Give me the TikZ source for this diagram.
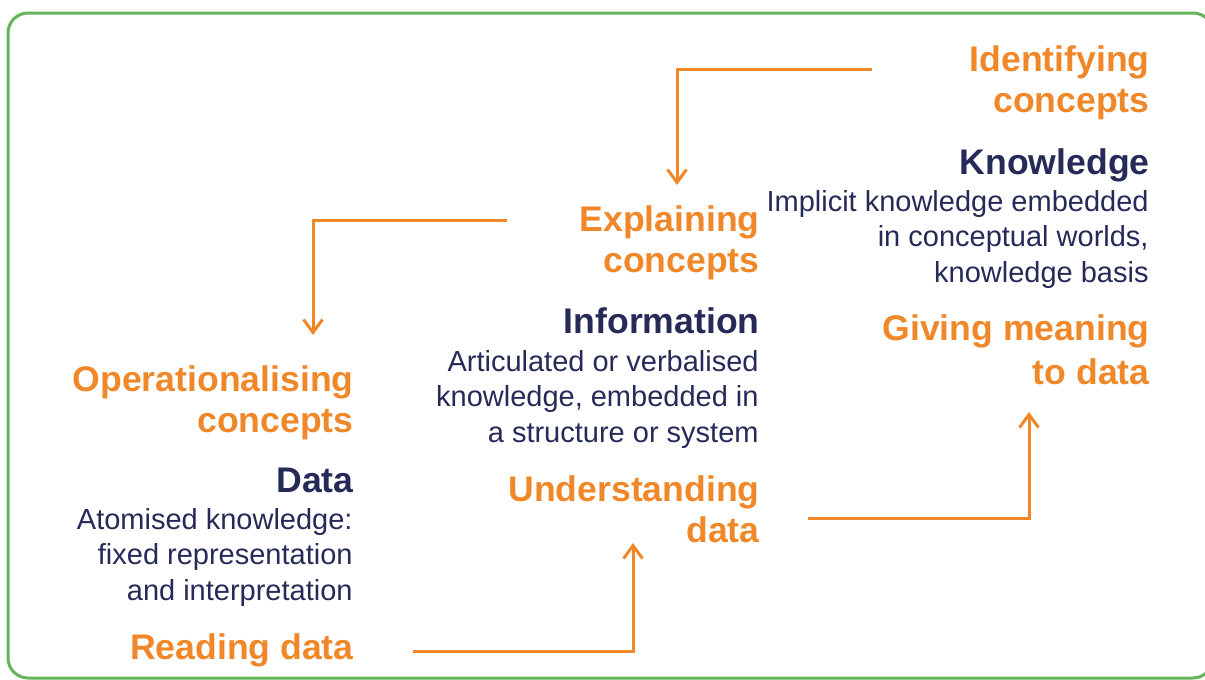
\documentclass[tikz,border=0pt]{standalone}
\usepackage{fontspec}
\setmainfont{Liberation Sans}
\usepackage{tikz}
\usetikzlibrary{arrows.meta}
\usetikzlibrary{positioning}
\definecolor{stageorange}{RGB}{240,136,42}
\definecolor{levelnavy}{RGB}{38,42,88}
\definecolor{framegreen}{RGB}{102,180,90}
\tikzset{stage/.style = {anchor=base east, inner sep=0, align=right, text=stageorange, font=\bfseries\fontsize{17.8}{20.5}\selectfont}}
\tikzset{level/.style = {anchor=base east, inner sep=0, align=right, text=levelnavy, font=\bfseries\fontsize{17.8}{20.5}\selectfont}}
\tikzset{desc/.style = {anchor=base east, inner sep=0, align=right, text=levelnavy, font=\fontsize{14.5}{17.75}\selectfont}}
\tikzset{flow/.style = {draw=stageorange, line width=1.5pt, -{Straight Barb[length=6.5pt,width=9.5pt]}}}

\begin{document}
\begin{tikzpicture}[x=0.5pt,y=-0.5pt]
        \useasboundingbox (0,0) rectangle (1205,680);
        \draw [framegreen,line width=1.5pt,rounded corners=10pt] (8,13) rectangle (1213,678);
        % knowledge column (nodes sit on the baseline of their last line)
        \node[stage] (identify) at (1150,112) {Identifying\\concepts};
        \node[level] (knowledge) at (1150,174) {Knowledge};
        \node[desc] (knowledgeText) at (1149,282) {Implicit knowledge embedded\\in conceptual worlds,\\knowledge basis};
        \node[stage] (giving) at (1150,384) {Giving meaning\\[1.5pt]to data};
        % information column
        \node[stage] (explain) at (760,272) {Explaining\\concepts};
        \node[level] (information) at (760,333) {Information};
        \node[desc] (informationText) at (759,442) {Articulated or verbalised\\knowledge, embedded in\\a structure or system};
        \node[stage] (understand) at (760,542) {Understanding\\data};
        % data column
        \node[stage] (operational) at (354,432) {Operationalising\\concepts};
        \node[level] (data) at (354,492) {Data};
        \node[desc] (dataText) at (353,600) {Atomised knowledge:\\fixed representation\\and interpretation};
        \node[stage] (reading) at (354,659) {Reading data};
        % arrows
        \coordinate (identifyOut) at (872,69);
        \coordinate (explainIn) at (677,185);
        \coordinate (explainOut) at (507,220);
        \coordinate (operationalIn) at (313,335);
        \coordinate (readingOut) at (413,651);
        \coordinate (understandIn) at (633,543);
        \coordinate (understandOut) at (808,518);
        \coordinate (givingIn) at (1029,412);
        \draw[flow] (identifyOut) -| (explainIn);
        \draw[flow] (explainOut) -| (operationalIn);
        \draw[flow] (readingOut) -| (understandIn);
        \draw[flow] (understandOut) -| (givingIn);
    \end{tikzpicture}
\end{document}
